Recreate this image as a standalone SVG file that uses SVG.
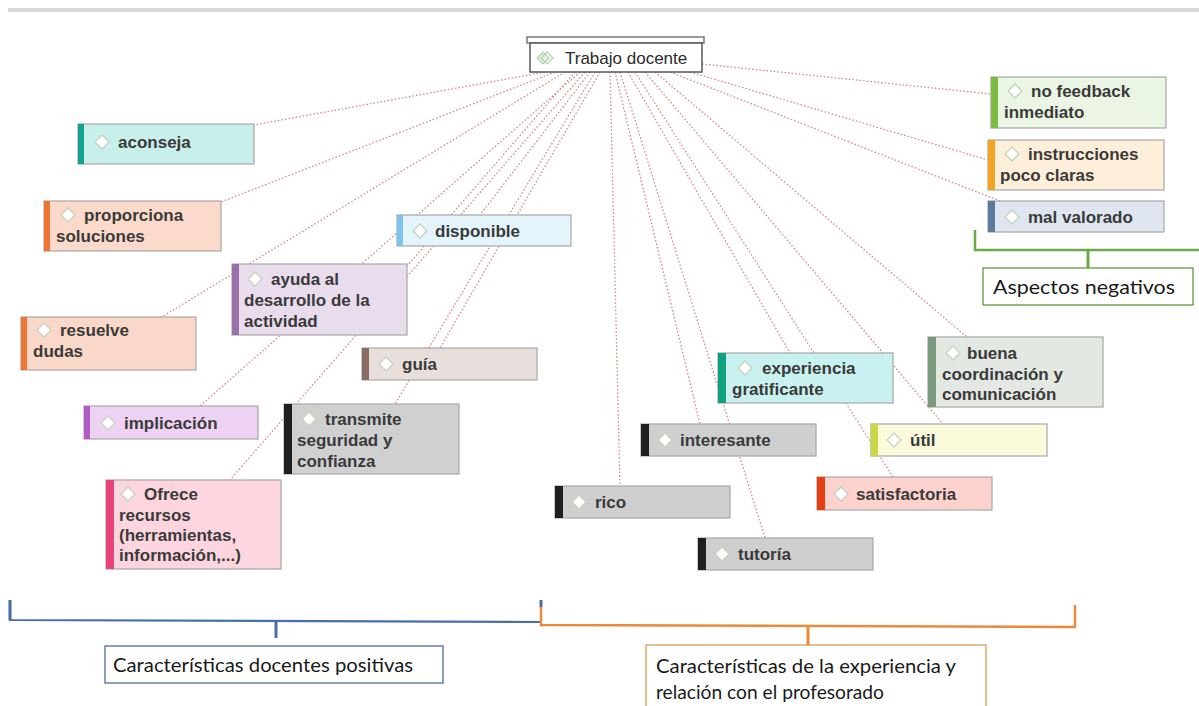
<svg xmlns="http://www.w3.org/2000/svg" width="1199" height="706" viewBox="0 0 1199 706">
  <defs>
    <style>
      .link { stroke: #d98a8a; stroke-width: 1.3; stroke-dasharray: 1.6 2; fill: none; }
      .box { stroke: #a7a7a7; stroke-width: 1.2; }
      .lbl { font-family: "Liberation Sans", Arial, sans-serif; font-weight: bold; font-size: 17px; fill: #3a3a3a; }
      .ico { fill: #ffffff; stroke: #c3d3bd; stroke-width: 1.3; }
      .cap { font-family: Lato, "Liberation Sans", sans-serif; font-size: 20px; fill: #1a1a1a; }
    </style>
    <path id="dia" d="M0,-7 L7,0 L0,7 L-7,0 Z"/>
  </defs>
  <rect width="1199" height="706" fill="#ffffff"/>
  <!-- top rule -->
  <rect x="8" y="8" width="1191" height="4" fill="#d6d6d6"/>

  <g id="connectors">
    <line class="link" x1="545" y1="72" x2="254" y2="125"/>
    <line class="link" x1="555" y1="72" x2="221" y2="202"/>
    <line class="link" x1="565" y1="72" x2="160" y2="318"/>
    <line class="link" x1="575" y1="72" x2="407" y2="266"/>
    <line class="link" x1="580" y1="72" x2="200" y2="406"/>
    <line class="link" x1="585" y1="72" x2="230" y2="480"/>
    <line class="link" x1="590" y1="72" x2="480" y2="215"/>
    <line class="link" x1="595" y1="72" x2="395" y2="404"/>
    <line class="link" x1="600" y1="72" x2="440" y2="348"/>
    <line class="link" x1="610" y1="72" x2="620" y2="486"/>
    <line class="link" x1="615" y1="72" x2="700" y2="424"/>
    <line class="link" x1="620" y1="72" x2="765" y2="538"/>
    <line class="link" x1="628" y1="72" x2="790" y2="353"/>
    <line class="link" x1="635" y1="72" x2="893" y2="477"/>
    <line class="link" x1="645" y1="72" x2="943" y2="424"/>
    <line class="link" x1="655" y1="72" x2="967" y2="337"/>
    <line class="link" x1="670" y1="72" x2="1000" y2="201"/>
    <line class="link" x1="690" y1="72" x2="988" y2="160"/>
    <line class="link" x1="702" y1="64" x2="991" y2="94"/>
  </g>

  <g id="hub">
    <rect x="527" y="37" width="177" height="6" fill="#ffffff" stroke="#555" stroke-width="1.2"/>
    <rect x="530" y="43" width="172" height="29" fill="#ffffff" stroke="#555" stroke-width="1.5"/>
    <path d="M537,58 L543,52 L549,58 L543,64 Z" fill="#e6efe2" stroke="#b7cdb0" stroke-width="1.2"/>
    <path d="M541,58 L547,52 L553,58 L547,64 Z" fill="none" stroke="#b7cdb0" stroke-width="1.2"/>
    <text x="565" y="64" font-family="'Liberation Sans', Arial, sans-serif" font-size="17" fill="#2a2a2a">Trabajo docente</text>
  </g>

  <g id="aconseja">
    <rect class="box" x="78" y="124" width="176" height="40" fill="#c9efea"/>
    <rect x="78" y="124" width="6" height="40" fill="#13a08f"/>
    <use href="#dia" x="102" y="142" class="ico"/>
    <text class="lbl" x="118" y="148">aconseja</text>
  </g>

  <g id="proporciona">
    <rect class="box" x="44" y="201" width="177" height="50" fill="#fbdacb"/>
    <rect x="44" y="201" width="6" height="50" fill="#f07534"/>
    <use href="#dia" x="68" y="215" class="ico"/>
    <text class="lbl" x="84" y="221">proporciona</text>
    <text class="lbl" x="56" y="242">soluciones</text>
  </g>

  <g id="disponible">
    <rect class="box" x="397" y="215" width="174" height="31" fill="#e4f4fb"/>
    <rect x="397" y="215" width="6" height="31" fill="#7fc2ec"/>
    <use href="#dia" x="420" y="231" class="ico"/>
    <text class="lbl" x="435" y="237">disponible</text>
  </g>

  <g id="ayuda">
    <rect class="box" x="232" y="264" width="175" height="71" fill="#e9dced"/>
    <rect x="232" y="264" width="7" height="71" fill="#9b70a8"/>
    <use href="#dia" x="255" y="279" class="ico"/>
    <text class="lbl" x="271" y="285">ayuda al</text>
    <text class="lbl" x="244" y="306">desarrollo de la</text>
    <text class="lbl" x="244" y="327">actividad</text>
  </g>

  <g id="resuelve">
    <rect class="box" x="21" y="317" width="175" height="53" fill="#fad8c9"/>
    <rect x="21" y="317" width="6" height="53" fill="#f07534"/>
    <use href="#dia" x="44" y="330" class="ico"/>
    <text class="lbl" x="60" y="336">resuelve</text>
    <text class="lbl" x="33" y="357">dudas</text>
  </g>

  <g id="guia">
    <rect class="box" x="362" y="348" width="175" height="32" fill="#e8dfdc"/>
    <rect x="362" y="348" width="7" height="32" fill="#8c6b62"/>
    <use href="#dia" x="386" y="364" class="ico"/>
    <text class="lbl" x="402" y="370">guía</text>
  </g>

  <g id="implicacion">
    <rect class="box" x="84" y="406" width="174" height="33" fill="#edd2f3"/>
    <rect x="84" y="406" width="6" height="33" fill="#b55bc9"/>
    <use href="#dia" x="108" y="423" class="ico"/>
    <text class="lbl" x="124" y="429">implicación</text>
  </g>

  <g id="transmite">
    <rect class="box" x="284" y="404" width="175" height="70" fill="#d0d0d0"/>
    <rect x="284" y="404" width="8" height="70" fill="#1f1f1f"/>
    <use href="#dia" x="309" y="419" class="ico"/>
    <text class="lbl" x="325" y="425">transmite</text>
    <text class="lbl" x="297" y="446">seguridad y</text>
    <text class="lbl" x="297" y="467">confianza</text>
  </g>

  <g id="ofrece">
    <rect class="box" x="106" y="480" width="175" height="89" fill="#fcd5df"/>
    <rect x="106" y="480" width="8" height="89" fill="#e8437c"/>
    <use href="#dia" x="128" y="494" class="ico"/>
    <text class="lbl" x="144" y="500">Ofrece</text>
    <text class="lbl" x="119" y="521">recursos</text>
    <text class="lbl" x="119" y="541">(herramientas,</text>
    <text class="lbl" x="119" y="561">información,...)</text>
  </g>

  <g id="experiencia">
    <rect class="box" x="718" y="353" width="175" height="50" fill="#c9f1ef"/>
    <rect x="718" y="353" width="8" height="50" fill="#10a182"/>
    <use href="#dia" x="745" y="368" class="ico"/>
    <text class="lbl" x="762" y="374">experiencia</text>
    <text class="lbl" x="732" y="395">gratificante</text>
  </g>

  <g id="buena">
    <rect class="box" x="928" y="337" width="175" height="70" fill="#e3e8e3"/>
    <rect x="928" y="337" width="8" height="70" fill="#7b9a7b"/>
    <use href="#dia" x="953" y="353" class="ico"/>
    <text class="lbl" x="967" y="359">buena</text>
    <text class="lbl" x="942" y="380">coordinación y</text>
    <text class="lbl" x="942" y="400">comunicación</text>
  </g>

  <g id="interesante">
    <rect class="box" x="641" y="424" width="175" height="32" fill="#cfcfcf"/>
    <rect x="641" y="424" width="8" height="32" fill="#1f1f1f"/>
    <use href="#dia" x="665" y="440" class="ico"/>
    <text class="lbl" x="680" y="446">interesante</text>
  </g>

  <g id="util">
    <rect class="box" x="871" y="424" width="176" height="32" fill="#fbfbdc"/>
    <rect x="871" y="424" width="7" height="32" fill="#c9d944"/>
    <use href="#dia" x="894" y="440" class="ico"/>
    <text class="lbl" x="910" y="446">útil</text>
  </g>

  <g id="satisfactoria">
    <rect class="box" x="817" y="477" width="175" height="33" fill="#fdd2cd"/>
    <rect x="817" y="477" width="8" height="33" fill="#e63d12"/>
    <use href="#dia" x="841" y="494" class="ico"/>
    <text class="lbl" x="856" y="500">satisfactoria</text>
  </g>

  <g id="rico">
    <rect class="box" x="555" y="486" width="175" height="32" fill="#cfcfcf"/>
    <rect x="555" y="486" width="8" height="32" fill="#1f1f1f"/>
    <use href="#dia" x="579" y="502" class="ico"/>
    <text class="lbl" x="595" y="508">rico</text>
  </g>

  <g id="tutoria">
    <rect class="box" x="698" y="538" width="175" height="32" fill="#cfcfcf"/>
    <rect x="698" y="538" width="8" height="32" fill="#1f1f1f"/>
    <use href="#dia" x="722" y="554" class="ico"/>
    <text class="lbl" x="738" y="560">tutoría</text>
  </g>

  <g id="nofeedback">
    <rect class="box" x="991" y="77" width="175" height="51" fill="#ebf5e3"/>
    <rect x="991" y="77" width="7" height="51" fill="#7cba42"/>
    <use href="#dia" x="1015" y="91" class="ico"/>
    <text class="lbl" x="1031" y="97">no feedback</text>
    <text class="lbl" x="1004" y="118">inmediato</text>
  </g>

  <g id="instrucciones">
    <rect class="box" x="988" y="140" width="176" height="50" fill="#fdefd9"/>
    <rect x="988" y="140" width="7" height="50" fill="#f1a323"/>
    <use href="#dia" x="1012" y="154" class="ico"/>
    <text class="lbl" x="1028" y="160">instrucciones</text>
    <text class="lbl" x="1000" y="181">poco claras</text>
  </g>

  <g id="malvalorado">
    <rect class="box" x="988" y="201" width="176" height="31" fill="#dfe6ef"/>
    <rect x="988" y="201" width="7" height="31" fill="#5a7aa0"/>
    <use href="#dia" x="1012" y="217" class="ico"/>
    <text class="lbl" x="1028" y="223">mal valorado</text>
  </g>

  <g id="aspectos-negativos">
    <polyline points="975,230 975,250 1199,250" fill="none" stroke="#6aaa44" stroke-width="2.5"/>
    <line x1="1088" y1="250" x2="1088" y2="268" stroke="#6aaa44" stroke-width="3"/>
    <rect x="983" y="268" width="210" height="37" fill="#ffffff" stroke="#5f9a3e" stroke-width="1.3"/>
    <text class="cap" x="993" y="294" textLength="182" lengthAdjust="spacingAndGlyphs">Aspectos negativos</text>
  </g>

  <g id="positivas">
    <polyline points="10,600 10,620 540,622" fill="none" stroke="#4a6fa8" stroke-width="2.2"/>
    <line x1="10" y1="600" x2="10" y2="620" stroke="#4a6fa8" stroke-width="3"/>
    <line x1="276" y1="620" x2="276" y2="638" stroke="#4a6fa8" stroke-width="3"/>
    <rect x="105" y="646" width="338" height="37" fill="#ffffff" stroke="#4e6b96" stroke-width="1.3"/>
    <text class="cap" x="113" y="672" textLength="300" lengthAdjust="spacingAndGlyphs">Características docentes positivas</text>
  </g>

  <g id="experiencia-relacion">
    <line x1="541" y1="600" x2="541" y2="607" stroke="#4a6fa8" stroke-width="3"/>
    <polyline points="541,607 541,625 1075,627 1075,605" fill="none" stroke="#ec8a3c" stroke-width="2.5"/>
    <line x1="808" y1="626" x2="808" y2="645" stroke="#ec8a3c" stroke-width="3"/>
    <rect x="646" y="645" width="340" height="70" fill="#ffffff" stroke="#d99a55" stroke-width="1.3"/>
    <text class="cap" x="656" y="673" textLength="300" lengthAdjust="spacingAndGlyphs">Características de la experiencia y</text>
    <text class="cap" x="656" y="699" textLength="228" lengthAdjust="spacingAndGlyphs">relación con el profesorado</text>
  </g>
</svg>
